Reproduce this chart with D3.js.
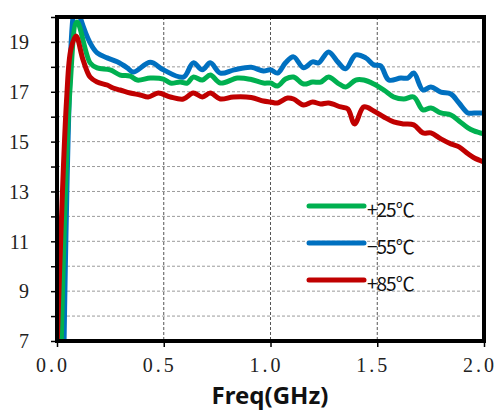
<!DOCTYPE html>
<html>
<head>
<meta charset="utf-8">
<script src="https://cdn.jsdelivr.net/npm/d3@7"></script>
<style>
  body { margin: 0; background: #fff; }
</style>
</head>
<body>
<div id="chart"></div>
<script>
// +25C
var freq25 = [0.02, 0.06, 0.094, 0.155, 0.188, 0.249, 0.296, 0.343, 0.376, 0.437, 0.498, 0.531, 0.577, 0.610, 0.638, 0.681, 0.718, 0.765, 0.845, 0.906, 0.967, 1.0, 1.033, 1.07, 1.108, 1.155, 1.197, 1.235, 1.272, 1.315, 1.352, 1.399, 1.437, 1.484, 1.531, 1.577, 1.624, 1.671, 1.714, 1.751, 1.798, 1.845, 1.883, 1.925, 1.953, 2.0];
var gain25 = [7.0, 17.0, 19.8, 18.16, 17.96, 17.88, 17.67, 17.63, 17.47, 17.55, 17.51, 17.35, 17.39, 17.35, 17.59, 17.47, 17.67, 17.35, 17.55, 17.5, 17.35, 17.35, 17.23, 17.51, 17.59, 17.31, 17.39, 17.39, 17.59, 17.35, 17.19, 17.47, 17.47, 17.31, 17.07, 16.79, 16.71, 16.79, 16.27, 16.35, 16.15, 16.07, 15.83, 15.55, 15.43, 15.31];
// -55C
var freq55 = [0.033, 0.075, 0.09, 0.108, 0.155, 0.188, 0.235, 0.282, 0.329, 0.357, 0.437, 0.498, 0.592, 0.638, 0.681, 0.718, 0.765, 0.83, 0.91, 0.967, 1.0, 1.033, 1.07, 1.108, 1.155, 1.197, 1.225, 1.272, 1.315, 1.352, 1.399, 1.446, 1.484, 1.516, 1.554, 1.61, 1.643, 1.671, 1.714, 1.751, 1.798, 1.845, 1.883, 1.925, 1.953, 2.0];
var gain55 = [6.9, 20.0, 20.6, 20.0, 18.96, 18.56, 18.36, 18.2, 17.96, 17.79, 18.18, 17.88, 17.59, 18.16, 17.88, 18.16, 17.75, 17.88, 17.98, 17.83, 17.88, 17.75, 18.16, 18.4, 17.96, 18.2, 18.16, 18.6, 18.2, 17.92, 18.48, 18.36, 18.08, 18.04, 17.47, 17.55, 17.55, 17.75, 17.07, 17.19, 16.99, 16.91, 16.55, 16.15, 16.15, 16.15];
// +85C
var freq85 = [0.0, 0.045, 0.065, 0.089, 0.122, 0.155, 0.188, 0.235, 0.263, 0.296, 0.343, 0.39, 0.427, 0.474, 0.531, 0.592, 0.638, 0.681, 0.718, 0.765, 0.826, 0.91, 0.967, 1.0, 1.033, 1.08, 1.108, 1.155, 1.197, 1.235, 1.272, 1.329, 1.362, 1.394, 1.437, 1.484, 1.531, 1.577, 1.624, 1.671, 1.714, 1.751, 1.798, 1.845, 1.883, 1.925, 1.953, 2.0];
var gain85 = [6.6, 16.7, 18.7, 19.24, 18.28, 17.59, 17.39, 17.27, 17.15, 17.07, 16.95, 16.87, 16.79, 16.95, 16.79, 16.71, 16.95, 16.79, 16.95, 16.71, 16.79, 16.77, 16.63, 16.59, 16.55, 16.75, 16.71, 16.47, 16.59, 16.51, 16.55, 16.39, 16.31, 15.71, 16.39, 16.23, 15.99, 15.79, 15.71, 15.67, 15.35, 15.35, 15.11, 14.91, 14.79, 14.51, 14.35, 14.18];

var xTicks = [0, 0.5, 1.0, 1.5, 2.0];
var yLabels = [7, 9, 11, 13, 15, 17, 19];
var legendNames = ["+25\u2103", "\u221255\u2103", "+85\u2103"];

var W = 498, H = 412;
var pLeft = 57, pRight = 484, pTop = 17, pBottom = 341;

var svg = d3.select("#chart").append("svg")
  .attr("width", W).attr("height", H);

var x = d3.scaleLinear().domain([0, 2]).range([pLeft, pRight]);
var y = d3.scaleLinear().domain([7, 20]).range([pBottom, pTop]);

// grid
svg.append("g").selectAll("line")
  .data(d3.range(8, 20))
  .enter().append("line")
  .attr("x1", pLeft).attr("x2", pRight)
  .attr("y1", function(d) { return y(d); })
  .attr("y2", function(d) { return y(d); })
  .attr("stroke", "#9a9a9a")
  .attr("stroke-width", 1)
  .attr("stroke-dasharray", "3,2");

svg.append("g").selectAll("line")
  .data([0.5, 1.0, 1.5])
  .enter().append("line")
  .attr("y1", pTop).attr("y2", pBottom)
  .attr("x1", function(d) { return x(d); })
  .attr("x2", function(d) { return x(d); })
  .attr("stroke", "#555")
  .attr("stroke-width", 1)
  .attr("stroke-dasharray", "3,2");

// y axis ticks
var yAxis = svg.append("g")
  .attr("transform", "translate(" + pLeft + ",0)")
  .call(d3.axisLeft(y).tickValues(d3.range(7, 21)).tickSize(6).tickFormat(""));
yAxis.select(".domain").remove();
yAxis.selectAll("line").attr("stroke", "#000").attr("stroke-width", 1.5);

svg.append("g").selectAll("text")
  .data(yLabels)
  .enter().append("text")
  .attr("x", 29)
  .attr("y", function(d) { return y(d); })
  .attr("dy", "0.36em")
  .attr("text-anchor", "end")
  .style("font-family", "'Liberation Serif', serif")
  .style("font-size", "20px")
  .attr("fill", "#222")
  .text(function(d) { return d; });

// x axis ticks
var xAxis = svg.append("g")
  .attr("transform", "translate(0," + pBottom + ")")
  .call(d3.axisBottom(x).tickValues(xTicks).tickSize(6).tickFormat(""));
xAxis.select(".domain").remove();
xAxis.selectAll("line").attr("stroke", "#000").attr("stroke-width", 1.5);

svg.append("g").selectAll("text")
  .data(xTicks)
  .enter().append("text")
  .attr("x", function(d) { return x(d) - 4; })
  .attr("y", 372)
  .attr("text-anchor", "middle")
  .style("font-family", "'Liberation Serif', serif")
  .style("font-size", "20px")
  .style("letter-spacing", "3px")
  .attr("fill", "#222")
  .text(function(d) { return d3.format(".1f")(d); });

// lines
svg.append("clipPath").attr("id", "clip")
  .append("rect")
  .attr("x", pLeft).attr("y", pTop)
  .attr("width", pRight - pLeft).attr("height", pBottom - pTop);

var line = d3.line()
  .x(function(d) { return x(d[0]); })
  .y(function(d) { return y(d[1]); })
  .curve(d3.curveCatmullRom.alpha(0.5));

var series = [
  { f: freq55, g: gain55, color: "#0070C0" },
  { f: freq25, g: gain25, color: "#00B050" },
  { f: freq85, g: gain85, color: "#C00000" }
];

series.forEach(function(s) {
  svg.append("path")
    .datum(d3.zip(s.f, s.g))
    .attr("clip-path", "url(#clip)")
    .attr("fill", "none")
    .attr("stroke", s.color)
    .attr("stroke-width", 5)
    .attr("stroke-linejoin", "round")
    .attr("d", line);
});

// frame
svg.append("rect")
  .attr("x", pLeft).attr("y", pTop)
  .attr("width", pRight - pLeft).attr("height", pBottom - pTop)
  .attr("fill", "none")
  .attr("stroke", "#000")
  .attr("stroke-width", 4);

// legend
var legendColors = ["#00B050", "#0070C0", "#C00000"];
var lg = svg.append("g").selectAll("g")
  .data(legendNames)
  .enter().append("g")
  .attr("transform", function(d, i) { return "translate(309," + (206 + i * 37) + ")"; });

lg.append("line")
  .attr("x1", 0).attr("x2", 55)
  .attr("stroke", function(d, i) { return legendColors[i]; })
  .attr("stroke-width", 5)
  .attr("stroke-linecap", "round");

lg.append("text")
  .attr("x", 58)
  .attr("y", 11)
  .style("font-family", "'Noto Sans CJK SC', sans-serif")
  .style("font-size", "19px")
  .style("letter-spacing", "-1px")
  .attr("fill", "#111")
  .text(function(d) { return d; });

// axis title
svg.append("text")
  .attr("x", 270)
  .attr("y", 404)
  .attr("text-anchor", "middle")
  .style("font-family", "'Noto Sans', sans-serif")
  .style("font-weight", "bold")
  .style("font-size", "24px")
  .attr("fill", "#111")
  .text("Freq(GHz)");
</script>
</body>
</html>
